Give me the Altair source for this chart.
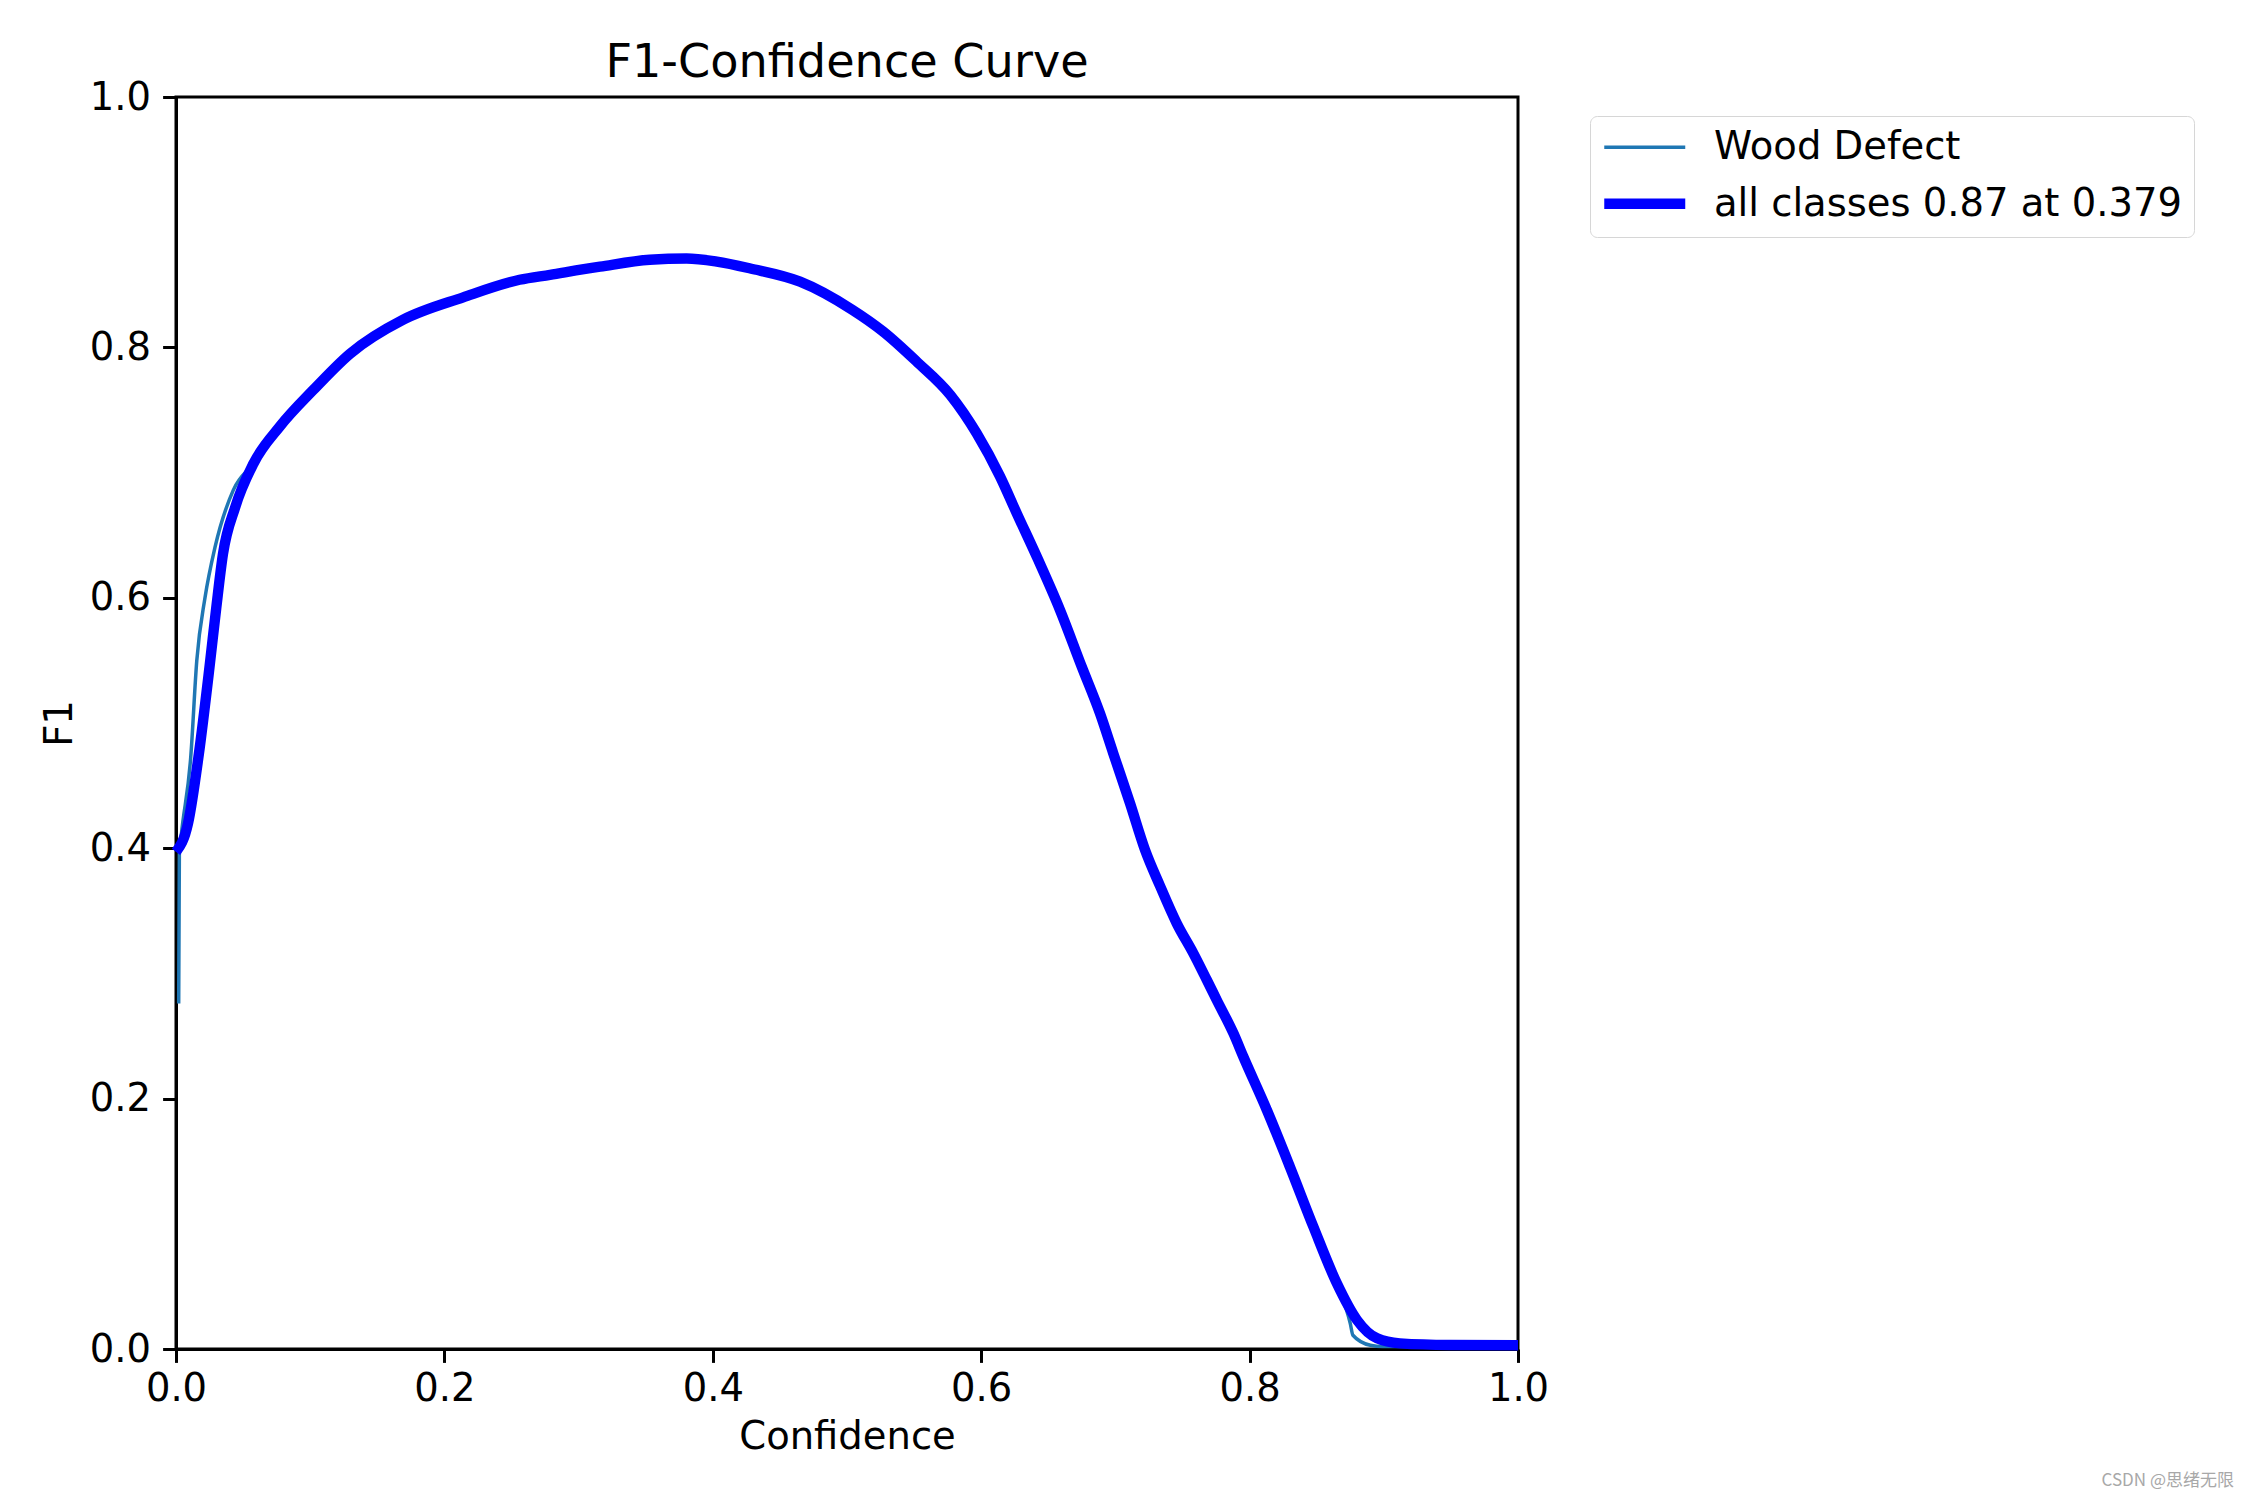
import altair as alt
import pandas as pd

# ---- data ----
conf_all = [0.000, 0.009, 0.017, 0.025, 0.030, 0.035, 0.044, 0.0576, 0.0775, 0.1023,
            0.1297, 0.169, 0.214, 0.256, 0.2787, 0.316, 0.353, 0.3805, 0.403, 0.428,
            0.465, 0.504, 0.527, 0.552, 0.577, 0.5966, 0.614, 0.6265, 0.6426, 0.6587,
            0.6749, 0.6885, 0.6984, 0.7109, 0.7221, 0.7332, 0.7457, 0.7581, 0.768, 0.7755,
            0.788, 0.7953, 0.8128, 0.830, 0.8475, 0.865, 0.880, 0.895, 0.912, 0.949, 1.000]
f1_all = [0.397, 0.420, 0.475, 0.545, 0.592, 0.635, 0.672, 0.707, 0.737, 0.766,
          0.795, 0.822, 0.840, 0.854, 0.858, 0.8645, 0.870, 0.871, 0.8685, 0.863,
          0.8525, 0.830, 0.8126, 0.7886, 0.762, 0.7314, 0.697, 0.6675, 0.630, 0.5903,
          0.545, 0.5077, 0.4758, 0.4359, 0.3986, 0.370, 0.340, 0.316, 0.295, 0.2788,
          0.252, 0.2335, 0.191, 0.1456, 0.0977, 0.0525, 0.0232, 0.0085, 0.0045, 0.0032, 0.003]

conf_wood = [0.002, 0.0025, 0.004, 0.011, 0.0155, 0.0216, 0.029, 0.0427, 0.0576, 0.0775,
             0.1023, 0.1297, 0.169, 0.214, 0.256, 0.2787, 0.316, 0.353, 0.3805, 0.403,
             0.428, 0.465, 0.504, 0.527, 0.552, 0.577, 0.5966, 0.614, 0.6265, 0.6426,
             0.6587, 0.6749, 0.6885, 0.6984, 0.7109, 0.7221, 0.7332, 0.7457, 0.7581, 0.768,
             0.7755, 0.788, 0.7953, 0.8128, 0.830, 0.8475, 0.865, 0.875, 0.877, 0.890,
             0.899, 1.000]
f1_wood = [0.276, 0.395, 0.411, 0.473, 0.550, 0.600, 0.640, 0.686, 0.707, 0.737,
           0.766, 0.795, 0.822, 0.840, 0.854, 0.858, 0.8645, 0.870, 0.871, 0.8685,
           0.863, 0.8525, 0.830, 0.8126, 0.7886, 0.762, 0.7314, 0.697, 0.6675, 0.630,
           0.5903, 0.545, 0.5077, 0.4758, 0.4359, 0.3986, 0.370, 0.340, 0.316, 0.295,
           0.2788, 0.252, 0.2335, 0.191, 0.1456, 0.0977, 0.0525, 0.0205, 0.011, 0.003,
           0.002, 0.002]

series_names = ["Wood Defect", "all classes 0.87 at 0.379"]
series_colors = ["#1f77b4", "#0000ff"]
series_widths = [3.5, 10.4]
axis_ticks = [0.0, 0.2, 0.4, 0.6, 0.8, 1.0]
watermark_text = ["CSDN @思绪无限"]

df_wood = pd.DataFrame({"Confidence": conf_wood, "F1": f1_wood, "series": series_names[0]})
df_all = pd.DataFrame({"Confidence": conf_all, "F1": f1_all, "series": series_names[1]})

FONT = "DejaVu Sans"
FS = 38.5

color_enc = alt.Color(
    "series:N",
    scale=alt.Scale(domain=series_names, range=series_colors),
    legend=alt.Legend(title=None),
)
width_enc = alt.StrokeWidth(
    "series:N",
    scale=alt.Scale(domain=series_names, range=series_widths),
    legend=alt.Legend(title=None),
)

x_enc = alt.X(
    "Confidence:Q",
    scale=alt.Scale(domain=[0, 1], nice=False),
    axis=alt.Axis(values=axis_ticks, format=".1f", title="Confidence", grid=False,
                  labelPadding=8, titlePadding=11),
)
y_enc = alt.Y(
    "F1:Q",
    scale=alt.Scale(domain=[0, 1], nice=False),
    axis=alt.Axis(values=axis_ticks, format=".1f", title="F1", grid=False,
                  labelPadding=12, titlePadding=10),
)

wood = alt.Chart(df_wood).mark_line(interpolate="monotone", strokeCap="butt").encode(
    x=x_enc, y=y_enc, color=color_enc, strokeWidth=width_enc
)
allc = alt.Chart(df_all).mark_line(interpolate="monotone", strokeCap="butt").encode(
    x=x_enc, y=y_enc, color=color_enc, strokeWidth=width_enc
)

watermark = alt.Chart(pd.DataFrame({"t": watermark_text})).mark_text(
    align="right", baseline="middle", fontSize=17, color="#a8a8a8",
    font="Noto Sans CJK SC"
).encode(x=alt.value(2058), y=alt.value(1384), text="t:N")

chart = alt.layer(wood, allc, watermark).properties(
    width=1342,
    height=1252,
    title=alt.TitleParams("F1-Confidence Curve", fontSize=46.2, font=FONT,
                          fontWeight="normal", color="black", baseline="alphabetic",
                          offset=-45, anchor="middle"),
    autosize=alt.AutoSizeParams(type="none"),
    padding={"left": 168, "top": 89, "right": 724, "bottom": 143},
).configure_view(
    stroke="black", strokeWidth=3
).configure_axis(
    labelFont=FONT, labelFontSize=FS, labelColor="black",
    titleFont=FONT, titleFontSize=FS, titleColor="black", titleFontWeight="normal",
    tickSize=13.4, tickWidth=3, tickColor="black",
    domainColor="black", domainWidth=3, labelFlush=False,
).configure_legend(
    orient="none", legendX=1414, legendY=19,
    labelFont=FONT, labelFontSize=FS, labelColor="black", labelOffset=50,
    symbolType="M-3,0L3,0", symbolSize=729, symbolOffset=23.5,
    strokeColor="#d6d6d6", fillColor="white", cornerRadius=7, padding=12,
    rowPadding=15.5, labelLimit=800,
)

chart.save("out.html", embed_options={"renderer": "svg", "actions": False})
